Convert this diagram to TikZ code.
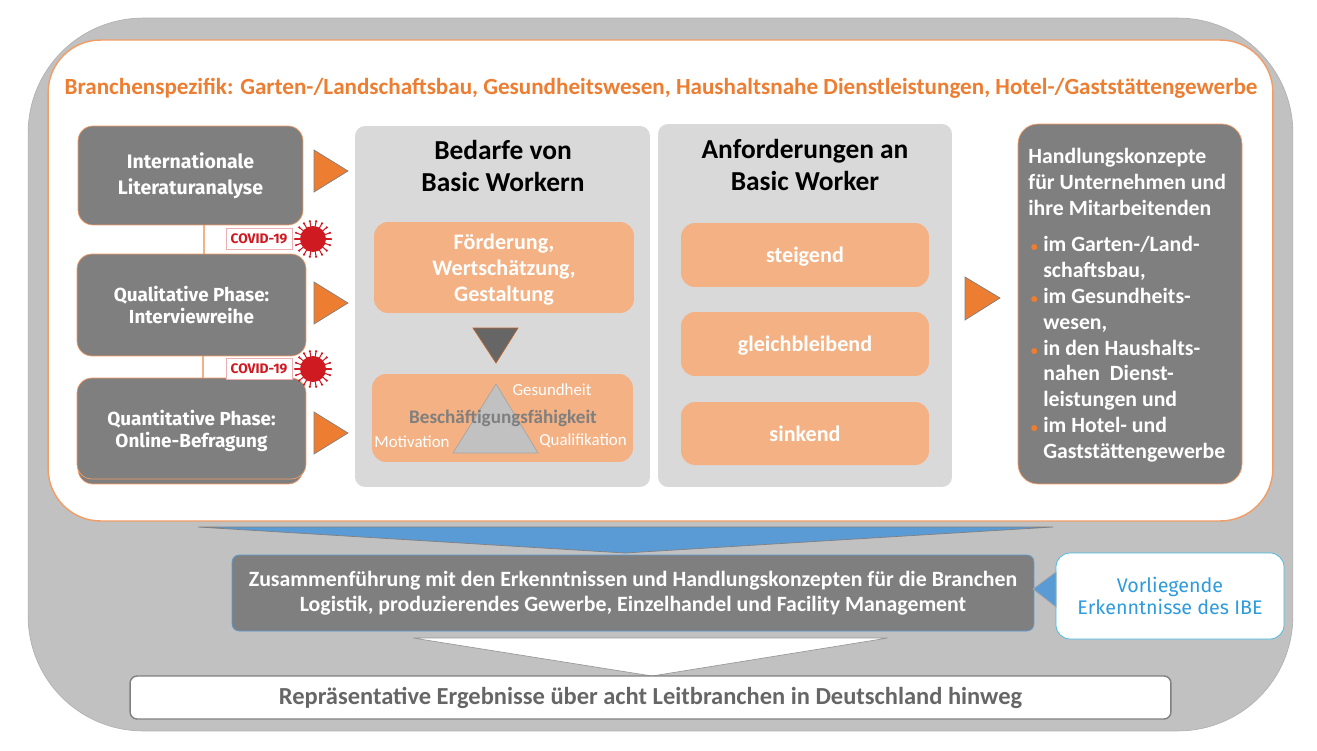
\documentclass[tikz,border=0pt]{standalone}
\usepackage{fontspec}
\setmainfont{Carlito}
\newfontfamily\finefont{Fira Sans}
\definecolor{orangeline}{HTML}{ED7D31}
\definecolor{orangebox}{HTML}{F4B183}
\definecolor{greybox}{HTML}{7F7F7F}
\definecolor{greypanel}{HTML}{D9D9D9}
\definecolor{greyouter}{HTML}{C1C1C1}
\definecolor{bluefill}{HTML}{5B9BD5}
\definecolor{bluetext}{HTML}{2E9BDC}
\definecolor{covidred}{HTML}{CF1A22}
\newcommand{\bulletmark}{\makebox[8.5pt][l]{\hspace{1.4pt}\textcolor{orangeline}{\fontsize{8}{8}\selectfont•}}}
\tikzset{
  darkbox/.style={draw=orangeline!75,fill=greybox,rounded corners=0.3cm,text=white,align=center,inner sep=0pt,
    font=\finefont\bfseries\fontsize{10.75}{12.6}\selectfont},
  panel/.style={fill=greypanel,rounded corners=0.2cm,inner sep=0pt},
  softbox/.style={fill=orangebox,rounded corners=0.28cm,text=white,align=center,inner sep=0pt,text depth=0pt,
    font=\bfseries\fontsize{12.6}{14.8}\selectfont},
  headline/.style={align=center,inner sep=0pt,font=\bfseries\fontsize{15.6}{18.6}\selectfont},
  smalltag/.style={text=white,inner sep=0pt,font=\fontsize{9.6}{11}\selectfont},
  rightmark/.style={fill=orangeline,draw=gray,thin},
}
\begin{document}
\begin{tikzpicture}[x=0.02cm,y=-0.02cm]
  \useasboundingbox (0,0) rectangle (1317,750);
  \node (outer) at (660.5,374.5) [fill=greyouter,draw=gray!60,rounded corners=2.3cm,
    minimum width=25.3cm,minimum height=14.26cm] {};
  \node (inner) at (660.5,280.5) [fill=white,draw=orangeline!75,line width=0.8pt,rounded corners=1.05cm,
    minimum width=24.5cm,minimum height=9.62cm] {};
  \node (title) at (661,88) [text=orangeline,inner sep=0pt,font=\bfseries\fontsize{13.15}{15}\selectfont]
    {Branchenspezifik: Garten-/Landschaftsbau, Gesundheitswesen, Haushaltsnahe Dienstleistungen, Hotel-/Gaststättengewerbe};

  % linke Spalte
  \node (quantback) at (190.5,432) [darkbox,minimum width=4.5cm,minimum height=2.08cm] {};
  \coordinate (linkA) at (204,225);
  \coordinate (linkB) at (204,254);
  \coordinate (linkC) at (203,356);
  \coordinate (linkD) at (203,378);
  \draw [orangebox,thick] (linkA) -- (linkB) (linkC) -- (linkD);
  \node (lit) at (190.5,175.5) [darkbox,minimum width=4.5cm,minimum height=1.98cm,
    font=\finefont\bfseries\fontsize{11.1}{14.7}\selectfont] {Internationale\\Literaturanalyse};
  \node (qual) at (191.5,305) [darkbox,minimum width=4.58cm,minimum height=2.04cm] {Qualitative Phase:\\Interviewreihe};
  \node (quant) at (191.5,428.5) [darkbox,text depth=0pt,minimum width=4.58cm,minimum height=2.02cm] {Quantitative Phase:\\Online-Befragung};

  \foreach \y/\n in {239/one,369/two} {
    \node (tag\n) at (259,\y) [draw=covidred!35,fill=white,text=covidred,minimum width=1.32cm,minimum height=0.42cm,
      inner sep=0pt,font=\finefont\bfseries\fontsize{7.85}{9}\selectfont] {COVID-19};
    \foreach \a in {0,20,...,340}
      \draw [covidred,semithick] (313,\y) -- ++(\a:18) node [circle,fill=covidred,inner sep=0.5pt] {};
    \node (virus\n) at (313,\y) [circle,fill=covidred,minimum size=0.52cm,inner sep=0pt] {};
  }

  \foreach \y in {171,303,433}
    \draw [rightmark] (314,\y-21) -- (348,\y) -- (314,\y+21) -- cycle;

  % Bedarfe
  \node (bedarfe) at (502.5,306.5) [panel,minimum width=5.9cm,minimum height=7.22cm] {};
  \node (bedarfetitle) at (503,166) [headline] {Bedarfe von\\Basic Workern};
  \node (foerderung) at (504,267.5) [softbox,minimum width=5.2cm,minimum height=1.82cm] {Förderung,\\Wertschätzung,\\Gestaltung};
  \draw [fill=black!60,draw=orangeline!80!black] (473,328) -- (518,328) -- (496,363) -- cycle;
  \node (faehigkeit) at (502.5,418) [softbox,minimum width=5.22cm,minimum height=1.76cm] {};
  \draw [fill=greyouter,draw=gray!70] (496,384) -- (538,453) -- (453,453) -- cycle;
  \node (kern) at (503,418) [text=greybox,inner sep=0pt,font=\bfseries\fontsize{10.9}{12}\selectfont] {Beschäftigungsfähigkeit};
  \node (gesund) at (552,390) [smalltag] {Gesundheit};
  \node (motiv) at (412,442) [smalltag] {Motivation};
  \node (quali) at (583,441) [smalltag] {Qualifikation};

  % Anforderungen
  \node (anforderung) at (805,305.5) [panel,minimum width=5.88cm,minimum height=7.26cm] {};
  \node (anforderungtitle) at (805,165) [headline] {Anforderungen an\\Basic Worker};
  \node (steigend) at (805,255) [softbox,minimum width=4.96cm,minimum height=1.28cm] {steigend};
  \node (gleich) at (805,344) [softbox,minimum width=4.96cm,minimum height=1.28cm,text height=10pt,text depth=1pt] {gleichbleibend};
  \node (sinkend) at (805,433.5) [softbox,minimum width=4.96cm,minimum height=1.26cm] {sinkend};
  \draw [rightmark] (965,277) -- (1000,298) -- (965,320) -- cycle;

  % Handlungskonzepte
  \node (konzepte) at (1130,304) [darkbox,rounded corners=0.4cm,minimum width=4.48cm,minimum height=7.2cm] {};
  \node (konzeptetext) at (1028,148) [anchor=north west,align=left,text=white,inner sep=0pt,
    font=\bfseries\fontsize{12.4}{14.75}\selectfont]
    {Handlungskonzepte\\für Unternehmen und\\ihre Mitarbeitenden\\[5.7pt]
     \bulletmark im Garten-/Land-\\\hspace*{8.5pt}schaftsbau,\\
     \bulletmark im Gesundheits-\\\hspace*{8.5pt}wesen,\\
     \bulletmark in den Haushalts-\\\hspace*{8.5pt}nahen\ \ Dienst-\\\hspace*{8.5pt}leistungen und\\
     \bulletmark im Hotel- und\\\hspace*{8.5pt}Gaststättengewerbe};

  % unterer Teil
  \draw [fill=bluefill,draw=gray] (198,527) -- (1053,527) -- (625,553) -- cycle;
  \node (zusammen) at (633,593) [darkbox,draw=bluefill,rounded corners=0.14cm,minimum width=16.04cm,minimum height=1.52cm,
    font=\bfseries\fontsize{12.42}{14.4}\selectfont]
    {Zusammenführung mit den Erkenntnissen und Handlungskonzepten für die Branchen\\
     Logistik, produzierendes Gewerbe, Einzelhandel und Facility Management};
  \node (vorliegend) at (1170,596) [fill=white,draw=bluefill!70!cyan,rounded corners=0.28cm,minimum width=4.56cm,minimum height=1.72cm,
    align=center,text=bluetext,inner sep=0pt,font=\finefont\fontsize{11.2}{13}\selectfont]
    {Vorliegende\\Erkenntnisse des IBE};
  \coordinate (tipblue) at (1033,589);
  \draw [fill=bluefill,draw=gray!70] (tipblue) -- (1056,572) -- (1056,607) -- cycle;
  \draw [fill=white,draw=gray!80] (413,638) -- (888,638) -- (652,676) -- cycle;
  \node (ergebnis) at (650.5,697.5) [fill=white,draw=gray,thick,rounded corners=0.14cm,minimum width=20.82cm,minimum height=0.86cm,
    text=black!60,inner sep=0pt,font=\bfseries\fontsize{13.94}{16}\selectfont]
    {Repräsentative Ergebnisse über acht Leitbranchen in Deutschland hinweg};
\end{tikzpicture}
\end{document}
